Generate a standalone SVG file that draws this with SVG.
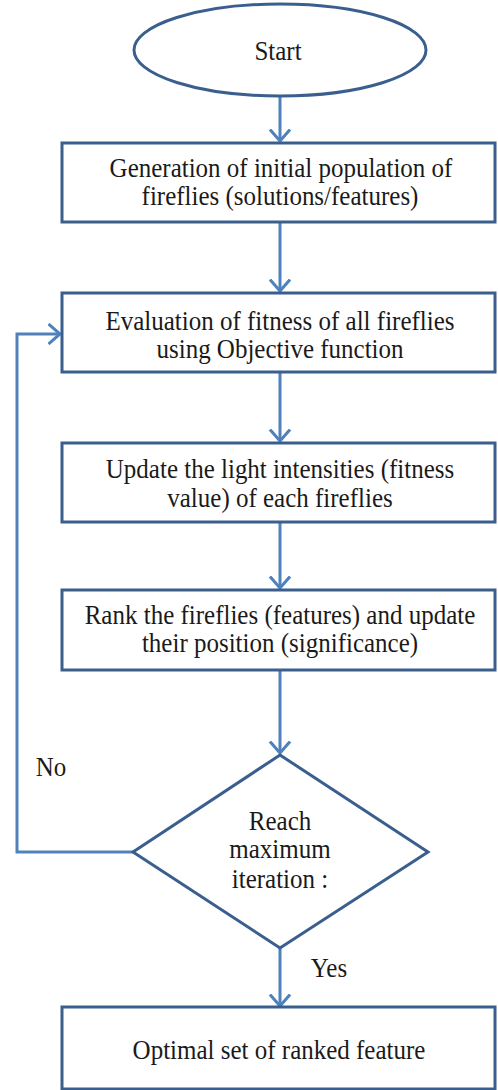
<svg xmlns="http://www.w3.org/2000/svg" width="498" height="1090" viewBox="0 0 498 1090">
<defs>
<style>
.box{fill:#fff;stroke:#3A5F8E;stroke-width:3}
.t{font-family:"Liberation Serif","Times New Roman","DejaVu Serif",serif;font-size:25px;fill:#1a1a1a;text-anchor:middle}
.c{fill:none;stroke:#4F81BD;stroke-width:3}
</style>
<marker id="ah" viewBox="0 0 14 22" refX="12.5" refY="11" markerWidth="14" markerHeight="22" markerUnits="userSpaceOnUse" orient="auto">
<path d="M1,1 L12.5,11 L1,21" fill="none" stroke="#4F81BD" stroke-width="3"/>
</marker>
</defs>
<rect width="498" height="1090" fill="#fff"/>
<g id="connectors">
<line class="c" x1="280" y1="97" x2="280" y2="141" marker-end="url(#ah)"/>
<line class="c" x1="280" y1="222" x2="280" y2="291" marker-end="url(#ah)"/>
<line class="c" x1="280" y1="372" x2="280" y2="441" marker-end="url(#ah)"/>
<line class="c" x1="280" y1="522" x2="280" y2="588" marker-end="url(#ah)"/>
<line class="c" x1="280" y1="670" x2="280" y2="753" marker-end="url(#ah)"/>
<polyline class="c" points="133,852 17,852 17,334 60,334" marker-end="url(#ah)"/>
<line class="c" x1="280" y1="948" x2="280" y2="1006" marker-end="url(#ah)"/>
<text class="t" transform="translate(51 776) scale(1 1.1)">No</text>
<text class="t" transform="translate(329 977) scale(1 1.1)">Yes</text>
</g>
<g id="start">
<ellipse class="box" cx="280" cy="50" rx="146" ry="46"/>
<text class="t" transform="translate(278 60) scale(1 1.1)">Start</text>
</g>
<g id="generation">
<rect class="box" x="62" y="143" width="433" height="79"/>
<text class="t" transform="translate(281 177) scale(1 1.1)">Generation of initial population of</text>
<text class="t" transform="translate(280 205) scale(1 1.1)">fireflies (solutions/features)</text>
</g>
<g id="evaluation">
<rect class="box" x="62" y="293" width="433" height="79"/>
<text class="t" transform="translate(280 330) scale(1 1.1)">Evaluation of fitness of all fireflies</text>
<text class="t" transform="translate(280 358) scale(1 1.1)">using Objective function</text>
</g>
<g id="update">
<rect class="box" x="62" y="443" width="433" height="79"/>
<text class="t" transform="translate(280 478) scale(1 1.1)">Update the light  intensities (fitness</text>
<text class="t" transform="translate(280 507) scale(1 1.1)">value) of each fireflies</text>
</g>
<g id="rank">
<rect class="box" x="62" y="590" width="433" height="80"/>
<text class="t" transform="translate(280 624) scale(1 1.1)">Rank the fireflies (features) and update</text>
<text class="t" transform="translate(280 652) scale(1 1.1)">their position (significance)</text>
</g>
<g id="decision">
<polygon class="box" points="280,755 428,852 280,948 133,852"/>
<text class="t" transform="translate(280 830) scale(1 1.1)">Reach</text>
<text class="t" transform="translate(280 858) scale(1 1.1)">maximum</text>
<text class="t" transform="translate(280 888) scale(1 1.1)">iteration :</text>
</g>
<g id="optimal">
<rect class="box" x="62" y="1007" width="433" height="82"/>
<text class="t" transform="translate(279 1059) scale(1 1.1)">Optimal set of ranked feature</text>
</g>
</svg>
